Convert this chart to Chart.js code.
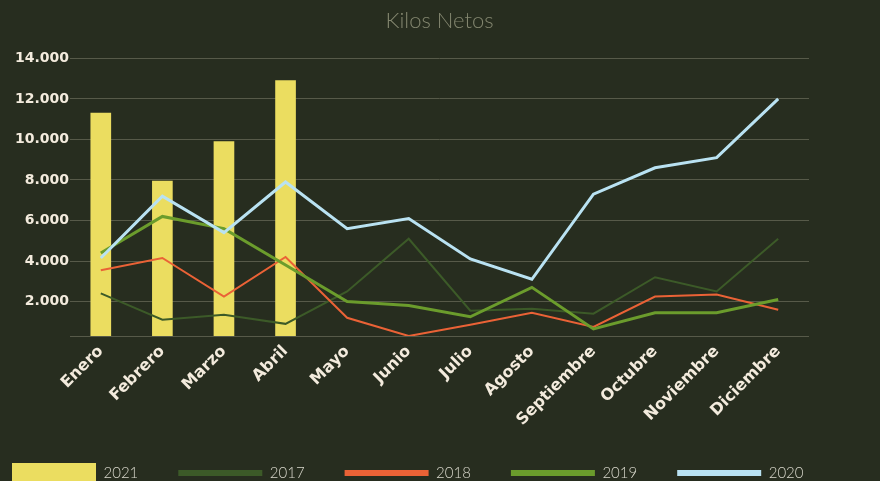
<!DOCTYPE html>
<html lang="es">
<head>
<meta charset="UTF-8">
<title>Kilos Netos</title>
<script src="https://cdn.jsdelivr.net/npm/chart.js"></script>
<style>
  html, body { margin: 0; padding: 0; background: #272d1f; }
  .chart-box { width: 880px; height: 481px; }
</style>
</head>
<body>
<div class="chart-box"><canvas id="kilosChart"></canvas></div>
<script>
// meses y kilos netos por año
const meses = ['Enero', 'Febrero', 'Marzo', 'Abril', 'Mayo', 'Junio', 'Julio', 'Agosto', 'Septiembre', 'Octubre', 'Noviembre', 'Diciembre'];
const kilos2021 = [11300, 7950, 9900, 12900];
const kilos2017 = [2400, 1100, 1350, 900, 2500, 5100, 1550, 1650, 1400, 3200, 2500, 5100];
const kilos2018 = [3550, 4150, 2250, 4200, 1200, 300, 850, 1450, 750, 2250, 2350, 1600];
const kilos2019 = [4400, 6200, 5600, 3800, 2000, 1800, 1250, 2700, 650, 1450, 1450, 2100];
const kilos2020 = [4150, 7200, 5400, 7900, 5600, 6100, 4100, 3100, 7300, 8600, 9100, 12000];
const ejeMin = 300;
const ejeTicks = [2000, 4000, 6000, 8000, 10000, 12000, 14000];

const texto = '#f3ebdd';

function formatoMiles(v) {
    return String(v).replace(/\B(?=(\d{3})+(?!\d))/g, '.');
}

const ctx = document.getElementById('kilosChart');

new Chart(ctx, {
    data: {
        labels: meses,
        datasets: [
            { type: 'bar', label: '2021', data: kilos2021, backgroundColor: '#ebdd60', barThickness: 20, order: 5, legendWidth: 20 },
            { type: 'line', label: '2017', data: kilos2017, borderColor: '#3c5a28', borderWidth: 2, pointRadius: 0, tension: 0, order: 4, legendWidth: 6 },
            { type: 'line', label: '2018', data: kilos2018, borderColor: '#ea6236', borderWidth: 2, pointRadius: 0, tension: 0, order: 3, legendWidth: 6 },
            { type: 'line', label: '2019', data: kilos2019, borderColor: '#6b9c2c', borderWidth: 3, pointRadius: 0, tension: 0, order: 2, legendWidth: 6 },
            { type: 'line', label: '2020', data: kilos2020, borderColor: '#b9e2f2', borderWidth: 3, pointRadius: 0, tension: 0, order: 1, legendWidth: 6 }
        ]
    },
    options: {
        responsive: true,
        maintainAspectRatio: false,
        animation: false,
        layout: { padding: { left: -28, right: 0, top: 0, bottom: -9.5 } },
        scales: {
            x: {
                grid: { display: false },
                border: { display: false },
                ticks: {
                    color: texto,
                    font: { family: 'DejaVu Sans', weight: 'bold', size: 16 },
                    minRotation: 45,
                    maxRotation: 45,
                    padding: -2
                },
                // alto fijo del eje para que el área del gráfico termine donde en el original
                afterFit: function (scale) { scale.height = 89.5; }
            },
            y: {
                min: ejeMin,
                max: 14000,
                grid: { color: '#575a49', lineWidth: 1, drawTicks: false },
                border: { display: false },
                afterBuildTicks: function (axis) {
                    axis.ticks = [{ value: ejeMin }].concat(ejeTicks.map(function (v) { return { value: v }; }));
                },
                ticks: {
                    color: texto,
                    padding: 1,
                    font: { family: 'DejaVu Sans', weight: 'bold', size: 14 },
                    callback: function (v) { return v < 2000 ? '' : formatoMiles(v); }
                },
                afterFit: function (scale) { scale.width = 98; }
            },
            derecha: {
                position: 'right',
                display: true,
                grid: { display: false },
                border: { display: false },
                ticks: { display: false },
                afterFit: function (scale) { scale.width = 71; }
            }
        },
        plugins: {
            title: {
                display: true,
                text: 'Kilos Netos',
                color: '#83866f',
                fullSize: false,
                font: { family: 'Lato', weight: 300, size: 22 },
                padding: { top: 8, bottom: 24 }
            },
            legend: {
                position: 'bottom',
                align: 'start',
                labels: {
                    usePointStyle: true,
                    pointStyleWidth: 84,
                    padding: 40,
                    color: '#d9d8cc',
                    font: { family: 'Lato', weight: 300, size: 15 },
                    generateLabels: function (chart) {
                        return chart.data.datasets.map(function (ds, i) {
                            const c = ds.type === 'bar' ? ds.backgroundColor : ds.borderColor;
                            return {
                                text: ds.label,
                                fillStyle: c,
                                strokeStyle: c,
                                lineWidth: ds.legendWidth,
                                lineCap: 'butt',
                                pointStyle: 'line',
                                fontColor: '#d9d8cc',
                                datasetIndex: i
                            };
                        });
                    }
                }
            },
            tooltip: { enabled: false }
        }
    }
});
</script>
</body>
</html>
